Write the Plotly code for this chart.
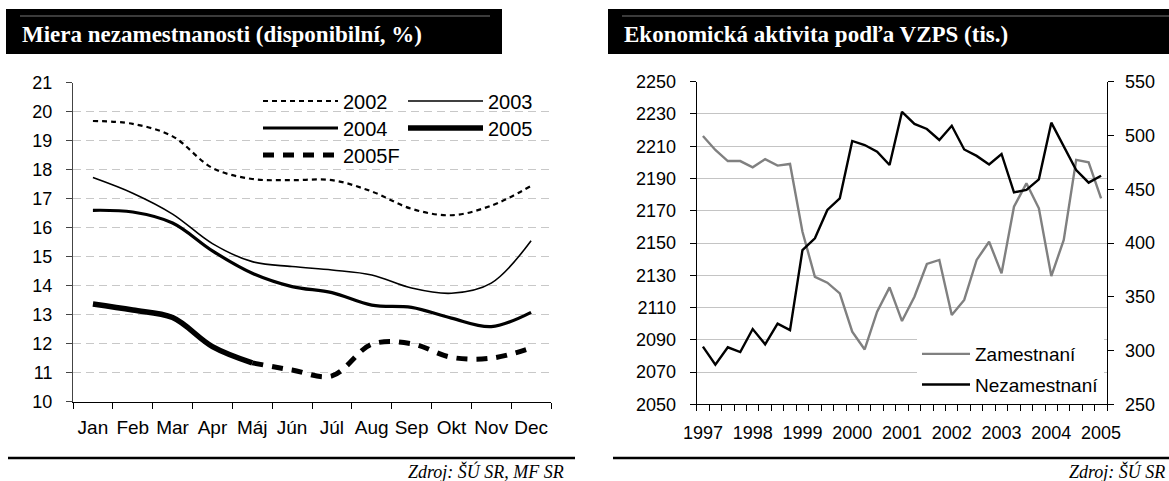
import plotly.graph_objects as go

# ---------------- data ----------------
months = ["Jan", "Feb", "Mar", "Apr", "Máj", "Jún", "Júl", "Aug", "Sep", "Okt", "Nov", "Dec"]
u2002 = [19.68, 19.58, 19.15, 18.06, 17.68, 17.64, 17.64, 17.25, 16.65, 16.43, 16.76, 17.44]
u2003 = [17.73, 17.19, 16.47, 15.45, 14.83, 14.66, 14.54, 14.37, 13.92, 13.74, 14.09, 15.55]
u2004 = [16.60, 16.54, 16.16, 15.20, 14.43, 13.97, 13.76, 13.33, 13.25, 12.88, 12.59, 13.08]
u2005 = [13.37, 13.16, 12.90, 11.90, 11.34, None, None, None, None, None, None, None]
u2005F = [None, None, None, None, 11.34, 11.09, 10.89, 11.98, 12.00, 11.53, 11.50, 11.85]

quarters = ["1997Q1", "1997Q2", "1997Q3", "1997Q4", "1998Q1", "1998Q2", "1998Q3", "1998Q4",
            "1999Q1", "1999Q2", "1999Q3", "1999Q4", "2000Q1", "2000Q2", "2000Q3", "2000Q4",
            "2001Q1", "2001Q2", "2001Q3", "2001Q4", "2002Q1", "2002Q2", "2002Q3", "2002Q4",
            "2003Q1", "2003Q2", "2003Q3", "2003Q4", "2004Q1", "2004Q2", "2004Q3", "2004Q4",
            "2005Q1"]
year_labels = ["1997", "1998", "1999", "2000", "2001", "2002", "2003", "2004", "2005"]
zamestnani = [2216.3, 2207.7, 2200.8, 2200.8, 2196.9, 2202.0, 2198.0, 2199.0,
              2157.0, 2129.0, 2125.4, 2118.8, 2095.0, 2084.0, 2107.4, 2122.5,
              2101.6, 2116.7, 2137.0, 2139.5, 2105.4, 2114.7, 2139.5, 2150.8,
              2131.2, 2172.5, 2187.0, 2171.5, 2129.5, 2151.9, 2201.5, 2200.0,
              2177.7]
nezamestnani = [303.6, 286.8, 303.0, 298.6, 320.0, 305.8, 325.0, 319.0,
                393.4, 404.4, 430.7, 441.6, 494.9, 491.1, 485.0, 472.5,
                522.0, 510.7, 506.0, 495.8, 509.0, 487.0, 481.0, 473.0,
                482.8, 447.1, 449.3, 459.2, 511.9, 489.6, 467.9, 456.1,
                462.6]

# ---------------- geometry helpers ----------------
W, H = 1169, 481


def px(x):
    return x / W


def py(y):
    return 1 - y / H


SANS = "Liberation Sans, Arial, sans-serif"
SERIF = "Liberation Serif, Times New Roman, serif"

fig = go.Figure()

# ---------------- left chart ----------------
qx = list(range(len(quarters)))
q1_pos = [qx[i] for i, q in enumerate(quarters) if q.endswith("Q1")]

fig.add_trace(go.Scatter(x=months, y=u2002, name="2002", mode="lines", line_shape="spline",
                         line=dict(color="black", width=2.2, dash="5px,4px"),
                         xaxis="x", yaxis="y", legend="legend"))
fig.add_trace(go.Scatter(x=months, y=u2003, name="2003", mode="lines", line_shape="spline",
                         line=dict(color="black", width=1.6),
                         xaxis="x", yaxis="y", legend="legend"))
fig.add_trace(go.Scatter(x=months, y=u2004, name="2004", mode="lines", line_shape="spline",
                         line=dict(color="black", width=3.2),
                         xaxis="x", yaxis="y", legend="legend2"))
fig.add_trace(go.Scatter(x=months, y=u2005, name="2005", mode="lines", line_shape="spline",
                         line=dict(color="black", width=5.5),
                         xaxis="x", yaxis="y", legend="legend2"))
fig.add_trace(go.Scatter(x=months, y=u2005F, name="2005F", mode="lines", line_shape="spline",
                         line=dict(color="black", width=5, dash="11px,9px"),
                         xaxis="x", yaxis="y", legend="legend3"))

# ---------------- right chart ----------------
fig.add_trace(go.Scatter(x=qx, y=zamestnani, name="Zamestnaní", mode="lines",
                         line=dict(color="#808080", width=2.4), legendgroup="z",
                         xaxis="x2", yaxis="y2", legend="legend4"))
fig.add_trace(go.Scatter(x=qx, y=nezamestnani, name="Nezamestnaní", mode="lines",
                         line=dict(color="black", width=2.4), legendgroup="n",
                         xaxis="x2", yaxis="y3", legend="legend4"))

f18 = dict(family=SANS, size=18, color="black")
f19 = dict(family=SANS, size=19, color="black")
f20 = dict(family=SANS, size=20, color="black")

fig.update_layout(
    width=W, height=H,
    margin=dict(l=0, r=0, t=0, b=0, pad=0, autoexpand=False),
    paper_bgcolor="white", plot_bgcolor="white",
    font=f18,
    showlegend=True,
    xaxis=dict(domain=[px(73), px(551)], anchor="y", type="category", range=[-0.5, 11.5],
               tickson="boundaries", ticks="outside", ticklen=6, tickcolor="black",
               showline=True, linecolor="black", linewidth=1, showgrid=False,
               tickangle=0, ticklabelstandoff=8, automargin=False,
               tickfont=f19, fixedrange=True),
    yaxis=dict(domain=[py(401.7), py(82.7)], anchor="x", range=[10, 21], dtick=1,
               ticks="outside", ticklen=6, tickcolor="#444", showline=True,
               linecolor="#444", linewidth=1, showgrid=True, gridcolor="#c8c8c8",
               griddash="8px,5px", gridwidth=1, zeroline=False, tickfont=f18,
               ticklabelstandoff=10, automargin=False, fixedrange=True),
    xaxis2=dict(domain=[px(696.7), px(1107.3)], anchor="y2", range=[-0.5, 32.5],
                tickmode="array", tickvals=q1_pos, ticktext=year_labels, ticks="",
                minor=dict(ticks="outside", tick0=-0.5, dtick=1, ticklen=6,
                           tickcolor="black", showgrid=False),
                showline=True, linecolor="black", linewidth=1, showgrid=False,
                tickangle=0, ticklabelstandoff=12, automargin=False,
                zeroline=False, tickfont=f18, fixedrange=True),
    yaxis2=dict(domain=[py(404.3), py(81.7)], anchor="x2", range=[2050, 2250],
                tick0=2050, dtick=20,
                ticks="outside", ticklen=6, tickcolor="black", showline=True,
                linecolor="black", linewidth=1, showgrid=True, gridcolor="#c4c4c4",
                gridwidth=1, zeroline=False, tickfont=f18,
                ticklabelstandoff=10, automargin=False, fixedrange=True),
    yaxis3=dict(overlaying="y2", side="right", anchor="x2", range=[250, 550],
                tick0=250, dtick=50,
                ticks="outside", ticklen=6, tickcolor="black", showline=True,
                linecolor="black", linewidth=1, showgrid=False, zeroline=False,
                ticklabelstandoff=7, automargin=False,
                tickfont=f18, fixedrange=True),
)

leg_common = dict(orientation="h", bgcolor="rgba(0,0,0,0)", borderwidth=0,
                  font=f20, itemwidth=75,
                  entrywidthmode="pixels", entrywidth=55, xanchor="left", yanchor="middle",
                  itemclick=False, itemdoubleclick=False, tracegroupgap=0)
fig.update_layout(
    legend=dict(leg_common, x=px(258), y=py(101)),
    legend2=dict(leg_common, x=px(258), y=py(128)),
    legend3=dict(leg_common, x=px(258), y=py(155)),
    legend4=dict(orientation="v", bgcolor="white", borderwidth=0,
                 font=f19, itemwidth=48,
                 xanchor="right", yanchor="bottom", x=px(1104), y=py(404),
                 itemclick=False, itemdoubleclick=False, tracegroupgap=3),
)

# ---------------- decorations: title bars, footers ----------------
shapes = []
annots = []
for x0, x1, tx0, tx1, title, src, srcx, fx0, fx1 in [
    (6, 502, 20, 490, "Miera nezamestnanosti (disponibilní, %)", "Zdroj: ŠÚ SR, MF SR", 566, 8, 575),
    (608, 1169, 622, 1169, "Ekonomická aktivita podľa VZPS (tis.)", "Zdroj: ŠÚ SR", 1167, 613, 1169),
]:
    shapes.append(dict(type="rect", xref="paper", yref="paper", x0=px(x0), x1=px(x1),
                       y0=py(54), y1=py(9), fillcolor="black", line=dict(width=0), layer="above"))
    shapes.append(dict(type="line", xref="paper", yref="paper", x0=px(tx0), x1=px(tx1),
                       y0=py(16), y1=py(16), line=dict(color="#777", width=1), layer="above"))
    shapes.append(dict(type="line", xref="paper", yref="paper", x0=px(fx0), x1=px(fx1),
                       y0=py(458), y1=py(458), line=dict(color="black", width=2.5), layer="above"))
    annots.append(dict(xref="paper", yref="paper", x=px(tx0), y=py(34), xanchor="left",
                       yanchor="middle", showarrow=False, text="<b>" + title + "</b>",
                       font=dict(family=SERIF, size=23, color="white")))
    annots.append(dict(xref="paper", yref="paper", x=px(srcx), y=py(471), xanchor="right",
                       yanchor="middle", showarrow=False, text="<i>" + src + "</i>",
                       font=dict(family=SERIF, size=18, color="black")))

fig.update_layout(shapes=shapes, annotations=annots)

fig.write_html("out.html", config={"displayModeBar": False},
               post_script="document.body.style.margin='0';document.body.style.overflow='hidden';")
